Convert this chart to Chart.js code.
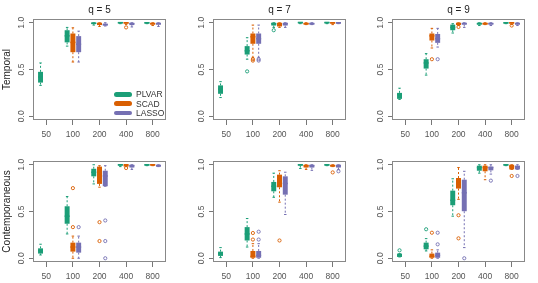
<!DOCTYPE html>
<html lang="en">
<head>
<meta charset="UTF-8">
<title>Boxplots by q and n</title>
<style>
  body { margin: 0; background: #fff; font-family: "Liberation Sans", Arial, sans-serif; }
  #wrap { position: relative; width: 538px; height: 283px; overflow: hidden; }
  #wrap canvas { position: absolute; }
  .legend { position: absolute; left: 114px; top: 89.6px; font-size: 8.5px; color: #333; }
  .legend div { display: flex; align-items: center; height: 9.4px; }
  .legend .key { display: inline-block; width: 18px; height: 4.5px; border-radius: 2.5px; margin-right: 4px; }
</style>
</head>
<body>
<div id="wrap">
  <div class="legend" id="legend"></div>
</div>

<script src="https://cdn.jsdelivr.net/npm/chart.js@4"></script>
<script>
// ==== data ====
const nLabels = ['50', '100', '200', '400', '800'];
const methods = ['PLVAR', 'SCAD', 'LASSO'];
const colors = ['#1B9E77', '#D95F02', '#7570B3'];

// per method: [lower whisker, Q1, median, Q3, upper whisker] for each n (null = not fitted)
const temporalQ5 = [
  [[0.33, 0.36, 0.42, 0.475, 0.57], [0.75, 0.79, 0.86, 0.92, 0.95], [0.975, 0.985, 0.995, 1, 1], [0.99, 0.993, 1, 1, 1], [0.99, 0.99, 1, 1, 1]],
  [null, [0.58, 0.685, 0.79, 0.885, 0.946], [0.96, 0.975, 0.99, 1, 1], [0.98, 0.99, 1, 1, 1], [0.97, 0.98, 0.99, 1, 1]],
  [null, [0.58, 0.685, 0.77, 0.857, 0.91], [0.965, 0.97, 0.98, 0.99, 1], [0.955, 0.975, 0.99, 1, 1], [0.96, 0.98, 0.99, 1, 1]]
];
const temporalQ5Out = [
  [[], [], [], [], []],
  [[], [], [], [0.95], []],
  [[], [], [], [], []]
];

const temporalQ7 = [
  [[0.20, 0.24, 0.29, 0.33, 0.37], [0.61, 0.66, 0.70, 0.75, 0.84], [0.95, 0.97, 0.99, 1, 1], [0.99, 0.995, 1, 1, 1], [0.99, 0.995, 1, 1, 1]],
  [null, [0.63, 0.775, 0.85, 0.885, 0.975], [0.95, 0.96, 0.98, 1, 1], [0.98, 0.98, 0.99, 1, 1], [0.98, 0.99, 1, 1, 1]],
  [null, [0.63, 0.775, 0.83, 0.885, 0.975], [0.95, 0.97, 0.99, 1, 1], [0.98, 0.98, 0.99, 1, 1], [0.99, 0.99, 1, 1, 1]]
];
const temporalQ7Out = [
  [[], [0.48], [0.92], [], []],
  [[], [0.61, 0.595], [], [], []],
  [[], [0.61, 0.595], [], [], []]
];

const temporalQ9 = [
  [[0.18, 0.186, 0.23, 0.25, 0.30], [0.44, 0.51, 0.57, 0.61, 0.67], [0.89, 0.92, 0.95, 0.98, 0.99], [0.97, 0.98, 0.99, 1, 1], [0.99, 0.99, 1, 1, 1]],
  [null, [0.73, 0.81, 0.86, 0.885, 0.94], [0.97, 0.975, 0.99, 1, 1], [0.98, 0.98, 0.99, 1, 1], [0.98, 0.99, 1, 1, 1]],
  [null, [0.74, 0.785, 0.83, 0.88, 0.94], [0.95, 0.98, 0.99, 1, 1], [0.97, 0.98, 0.99, 1, 1], [0.97, 0.98, 0.99, 1, 1]]
];
const temporalQ9Out = [
  [[], [], [], [], []],
  [[], [0.61], [0.955], [], [0.97]],
  [[], [0.61], [], [], []]
];

const contempQ5 = [
  [[0.035, 0.05, 0.08, 0.106, 0.15], [0.26, 0.369, 0.45, 0.556, 0.66], [0.795, 0.876, 0.92, 0.957, 1], [0.98, 0.99, 1, 1, 1], [0.99, 0.99, 1, 1, 1]],
  [null, [0, 0.071, 0.12, 0.167, 0.237], [0.76, 0.795, 0.90, 0.98, 0.99], [0.98, 0.98, 1, 1, 1], [0.99, 0.99, 1, 1, 1]],
  [null, [0, 0.06, 0.12, 0.167, 0.237], [0.77, 0.77, 0.88, 0.936, 0.99], [0.95, 0.97, 0.99, 1, 1], [0.98, 0.98, 0.99, 1, 1]]
];
const contempQ5Out = [
  [[], [], [], [], []],
  [[], [0.75, 0.333], [0.386, 0.184], [0.965], []],
  [[], [0.333], [0.404, 0.184, 0], [], []]
];

const contempQ7 = [
  [[0.007, 0.025, 0.05, 0.071, 0.114], [0.12, 0.19, 0.26, 0.333, 0.425], [0.652, 0.716, 0.77, 0.816, 0.91], [0.96, 0.99, 1, 1, 1], [0.99, 0.99, 1, 1, 1]],
  [null, [0, 0, 0.02, 0.078, 0.156], [0.6, 0.759, 0.84, 0.894, 0.936], [0.95, 0.97, 0.99, 1, 1], [0.98, 0.98, 0.99, 1, 1]],
  [null, [0, 0, 0.03, 0.078, 0.156], [0.468, 0.68, 0.80, 0.876, 0.92], [0.94, 0.97, 0.99, 1, 1], [0.95, 0.97, 0.99, 1, 1]]
];
const contempQ7Out = [
  [[], [], [], [], []],
  [[], [0.27, 0.2], [0.19], [], [0.918]],
  [[], [0.284, 0.2], [], [], [0.93]]
];

const contempQ9 = [
  [[0.014, 0.014, 0.03, 0.05, 0.05], [0.078, 0.096, 0.13, 0.167, 0.21], [0.45, 0.567, 0.62, 0.723, 0.85], [0.91, 0.936, 0.97, 0.99, 1], [0.99, 0.99, 1, 1, 1]],
  [null, [0, 0, 0.02, 0.05, 0.09], [0.63, 0.745, 0.80, 0.858, 0.97], [0.84, 0.93, 0.97, 0.99, 1], [0.95, 0.95, 0.98, 1, 1]],
  [null, [0, 0, 0.03, 0.06, 0.09], [0.114, 0.503, 0.70, 0.84, 0.93], [0.90, 0.94, 0.97, 0.98, 1], [0.95, 0.95, 0.98, 0.99, 1]]
];
const contempQ9Out = [
  [[0.085], [0.31], [], [], []],
  [[], [0.273], [0.46, 0.213], [], [0.88]],
  [[], [0.273, 0.149], [0], [0.83], [0.88]]
];

const yTicks = [0, 0.5, 1];
const colTitles = ['q = 5', 'q = 7', 'q = 9'];
const rowTitles = ['Temporal', 'Contemporaneous'];

// ==== layout ====
const FONT = '"Liberation Sans", Arial, sans-serif';
Chart.defaults.font.family = FONT;
const frameLefts = [33, 213, 392];
const wrap = document.getElementById('wrap');

// runs fn for every box with its stats, outliers, bar x/width and a value->pixel helper
function eachBox(chart, fn) {
  const ys = chart.scales.y;
  chart.data.datasets.forEach((ds, i) => {
    const meta = chart.getDatasetMeta(i);
    ds.stats.forEach((s, j) => {
      if (!s) return;
      const bar = meta.data[j];
      fn(chart.ctx, ds, s, ds.outliers[j], bar.x, bar.width, v => ys.getPixelForValue(v));
    });
  });
}

// whiskers, staples, medians, outliers and the box frame (R boxplot look)
const boxParts = {
  id: 'boxParts',
  beforeDatasetsDraw(chart) {
    eachBox(chart, (ctx, ds, s, out, x, w, py) => {
      ctx.save();
      ctx.strokeStyle = ds.backgroundColor;
      ctx.lineWidth = 1;
      ctx.setLineDash([2, 2]);
      ctx.beginPath();
      ctx.moveTo(x, py(s[3])); ctx.lineTo(x, py(s[4]));
      ctx.moveTo(x, py(s[1])); ctx.lineTo(x, py(s[0]));
      ctx.stroke();
      ctx.setLineDash([]);
      ctx.beginPath();
      ctx.moveTo(x - w / 4, py(s[4])); ctx.lineTo(x + w / 4, py(s[4]));
      ctx.moveTo(x - w / 4, py(s[0])); ctx.lineTo(x + w / 4, py(s[0]));
      ctx.stroke();
      ctx.restore();
    });
  },
  afterDatasetsDraw(chart) {
    eachBox(chart, (ctx, ds, s, out, x, w, py) => {
      ctx.save();
      ctx.strokeStyle = ds.backgroundColor;
      ctx.lineWidth = 1.5;
      ctx.beginPath();
      ctx.moveTo(x - w / 2, py(s[2])); ctx.lineTo(x + w / 2, py(s[2]));
      ctx.stroke();
      ctx.lineWidth = 0.9;
      out.forEach(v => {
        ctx.beginPath();
        ctx.arc(x, py(v), 1.6, 0, Math.PI * 2);
        ctx.stroke();
      });
      ctx.restore();
    });
    const a = chart.chartArea;
    const ctx = chart.ctx;
    ctx.save();
    ctx.strokeStyle = '#888';
    ctx.lineWidth = 1;
    ctx.strokeRect(Math.round(a.left) + 0.5, Math.round(a.top) + 0.5,
      Math.round(a.width) - 1, Math.round(a.height) - 1);
    ctx.restore();
  }
};

function makePanel(stats, outs, row, col) {
  const canvas = document.createElement('canvas');
  canvas.width = 172;
  canvas.height = row === 0 ? 141 : 142;
  canvas.style.left = (frameLefts[col] - 33) + 'px';
  canvas.style.top = (row === 0 ? 0 : 141) + 'px';
  wrap.appendChild(canvas);

  new Chart(canvas, {
    type: 'bar',
    data: {
      labels: nLabels,
      datasets: methods.map((m, k) => ({
        label: m,
        data: stats[k].map(s => s ? [s[1], s[3]] : null),
        stats: stats[k],
        outliers: outs[k],
        backgroundColor: colors[k],
        borderWidth: 0,
        categoryPercentage: 0.65,
        barPercentage: 0.86,
        minBarLength: 1.5
      }))
    },
    options: {
      responsive: false,
      animation: false,
      layout: { padding: { top: row === 0 ? 0 : 20, right: 6, left: 0, bottom: 0 } },
      plugins: {
        legend: { display: false },
        tooltip: { enabled: false },
        title: {
          display: row === 0,
          text: colTitles[col],
          fullSize: false,
          color: '#222',
          font: { size: 10, weight: 'normal' },
          padding: { top: 4, bottom: 3 }
        }
      },
      scales: {
        x: {
          offset: true,
          grid: { offset: false, drawOnChartArea: false, tickLength: 5, color: '#777' },
          border: { display: false },
          ticks: { color: '#555', font: { size: 8.5 }, padding: 5, maxRotation: 0, autoSkip: false },
          afterFit: s => { s.height = 21; }
        },
        y: {
          min: -0.04,
          max: 1.04,
          afterBuildTicks: s => { s.ticks = yTicks.map(v => ({ value: v })); },
          grid: { drawOnChartArea: false, tickLength: 4, color: '#777' },
          border: { display: false },
          ticks: {
            color: '#555', font: { size: 8.5 }, padding: 1,
            minRotation: 90, maxRotation: 90, crossAlign: 'center',
            callback: v => Number(v).toFixed(1)
          },
          title: {
            display: col === 0,
            text: rowTitles[row],
            color: '#222',
            font: { size: 10 },
            padding: { top: 1, bottom: 0 }
          },
          afterFit: s => { s.width = 33; }
        }
      }
    },
    plugins: [boxParts]
  });
}

makePanel(temporalQ5, temporalQ5Out, 0, 0);
makePanel(temporalQ7, temporalQ7Out, 0, 1);
makePanel(temporalQ9, temporalQ9Out, 0, 2);
makePanel(contempQ5, contempQ5Out, 1, 0);
makePanel(contempQ7, contempQ7Out, 1, 1);
makePanel(contempQ9, contempQ9Out, 1, 2);

// legend in the first panel
const legend = document.getElementById('legend');
wrap.appendChild(legend);
methods.forEach((m, k) => {
  const rowEl = document.createElement('div');
  rowEl.innerHTML = `<span class="key" style="background:${colors[k]}"></span>${m}`;
  legend.appendChild(rowEl);
});
</script>
</body>
</html>
